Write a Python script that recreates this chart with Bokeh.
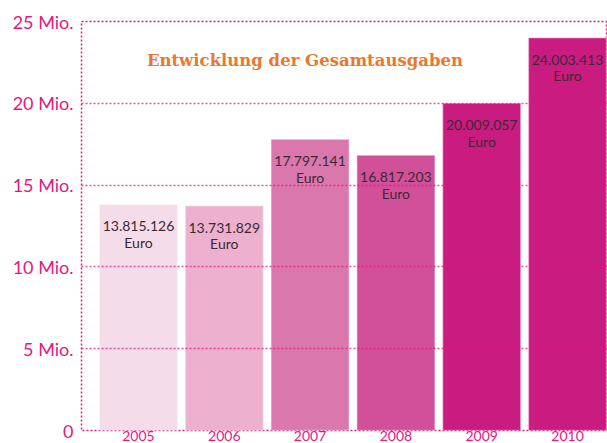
from bokeh.plotting import figure
from bokeh.models import ColumnDataSource, FixedTicker, LabelSet, Label
from bokeh.core.properties import value
from bokeh.embed import file_html
from bokeh.resources import INLINE

years = [2005, 2006, 2007, 2008, 2009, 2010]
values = [13815126, 13731829, 17797141, 16817203, 20009057, 24003413]
colors = ["#F4DCE8", "#EDB1CF", "#DA78AE", "#D2509A", "#C91B80", "#C91B80"]
year_labels = [str(y) for y in years]
amount_labels = [f"{v:,}".replace(",", ".") for v in values]
unit_labels = ["Euro"] * len(values)
y_ticks = [0, 5e6, 10e6, 15e6, 20e6, 25e6]
y_tick_labels = ["0", "5 Mio.", "10 Mio.", "15 Mio.", "20 Mio.", "25 Mio."]
title_text = "Entwicklung der Gesamtausgaben"

PINK = "#E2197E"
ORANGE = "#E8782E"
DARK = "#3B2A36"

src = ColumnDataSource(dict(x=years, top=values, color=colors,
                            amt=amount_labels, unit=unit_labels))

p = figure(width=607, height=443, output_backend="svg", toolbar_location=None,
           x_range=(2004.336, 2010.466), y_range=(0, 25e6),
           min_border_left=81, min_border_top=21, min_border_right=0, min_border_bottom=10)
p.background_fill_color = "white"
p.border_fill_color = "white"
p.outline_line_color = PINK
p.outline_line_dash = "2 2"
p.outline_line_width = 1.5

p.vbar(x="x", top="top", width=0.91, fill_color="color", line_color="white",
       line_alpha=0.35, line_width=1.5, source=src)

# x axis (years)
xax = p.xaxis[0]
xax.ticker = FixedTicker(ticks=years)
xax.major_label_overrides = {y: l for y, l in zip(years, year_labels)}
xax.axis_line_color = None
xax.major_tick_line_color = None
xax.minor_tick_line_color = None
xax.major_tick_out = 0
xax.major_tick_in = 0
xax.major_label_standoff = 0
xax.major_label_text_color = PINK
xax.major_label_text_font = "Lato"
xax.major_label_text_font_size = "14px"
p.xgrid.visible = False

# y axis
yax = p.yaxis[0]
yax.ticker = FixedTicker(ticks=y_ticks)
yax.major_label_overrides = {t: l for t, l in zip(y_ticks, y_tick_labels)}
yax.axis_line_color = None
yax.major_tick_line_color = None
yax.minor_tick_line_color = None
yax.major_tick_out = 0
yax.major_tick_in = 0
yax.major_label_standoff = 8
yax.major_label_text_color = PINK
yax.major_label_text_font = "Lato"
yax.major_label_text_font_size = "18px"

p.ygrid.ticker = FixedTicker(ticks=y_ticks)
p.ygrid.grid_line_color = PINK
p.ygrid.grid_line_dash = "2 2"
p.ygrid.grid_line_width = 1.5
p.ygrid.grid_line_alpha = 0.75
p.ygrid.level = "overlay"

# value labels inside bars
p.add_layout(LabelSet(x="x", y="top", text="amt", source=src, y_offset=-22,
                      text_align="center", text_baseline="middle", text_color=DARK,
                      text_font=value("Lato"), text_font_size="14px"))
p.add_layout(LabelSet(x="x", y="top", text="unit", source=src, y_offset=-38,
                      text_align="center", text_baseline="middle", text_color=DARK,
                      text_font=value("Lato"), text_font_size="14px"))

p.add_layout(Label(x=2006.94, y=22.6e6, text=title_text, text_align="center",
                   text_baseline="middle", text_color=ORANGE, text_font="DejaVu Serif",
                   text_font_style="bold", text_font_size="16.5px"))

open("out.html", "w").write(file_html(p, INLINE))
